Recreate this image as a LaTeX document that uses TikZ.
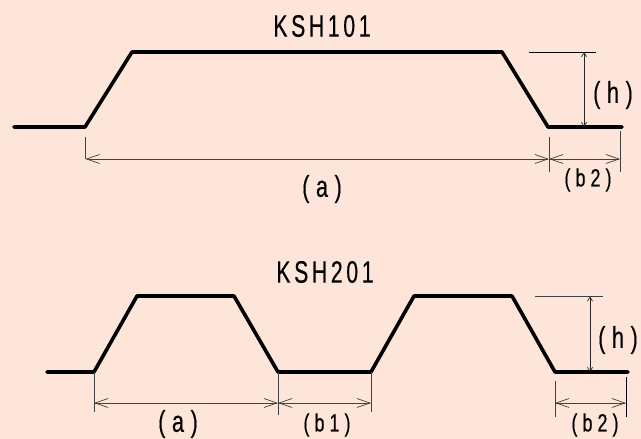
\documentclass[tikz,border=0pt]{standalone}
\usepackage{fontspec}
\newfontfamily\titlefont[FakeStretch=0.68,LetterSpace=12,FakeBold=0.3]{Liberation Sans}
\newfontfamily\parenfont[FakeStretch=0.72,LetterSpace=22,FakeBold=0.3]{Liberation Sans}
\newfontfamily\smallfont[FakeStretch=0.72,LetterSpace=20,FakeBold=0.3]{Liberation Sans}
\usetikzlibrary{arrows.meta}
\definecolor{sheetcolor}{HTML}{FDE5D9}
\tikzset{profile line/.style={line width=3.6pt,line cap=round,line join=round},}
\tikzset{extension line/.style={line width=0.7pt,color=black!75},}
\tikzset{dimension line/.style={line width=0.7pt,color=black!75,{Straight Barb[length=13pt,width=9pt,line width=0.7pt]}-{Straight Barb[length=13pt,width=9pt,line width=0.7pt]}},}
\tikzset{height line/.style={line width=0.7pt,color=black!85,{Straight Barb[length=4pt,width=5pt,line width=0.7pt]}-{Straight Barb[length=4pt,width=5pt,line width=0.7pt]}},}
\tikzset{title label/.style={inner sep=0pt,font=\titlefont\fontsize{31}{31}\selectfont},}
\tikzset{big label/.style={inner sep=0pt,font=\parenfont\fontsize{30}{30}\selectfont},}
\tikzset{small label/.style={inner sep=0pt,font=\smallfont\fontsize{25}{25}\selectfont},}

\begin{document}
\begin{tikzpicture}[x=1pt,y=-1pt]
     \fill[sheetcolor] (0,0) rectangle (641,439);
     \useasboundingbox (0,0) rectangle (641,439);

     % upper profile
     \coordinate (u1) at (14,127);
     \coordinate (u2) at (85,127);
     \coordinate (u3) at (132,52);
     \coordinate (u4) at (502,52);
     \coordinate (u5) at (548,127);
     \coordinate (u6) at (622,127);
     \draw[profile line] (u1) -- (u2) -- (u3) -- (u4) -- (u5) -- (u6);

     \coordinate (ua) at (85.5,159);
     \coordinate (ub) at (549,159);
     \coordinate (uc) at (620,159);
     \coordinate (uh1) at (584,52);
     \coordinate (uh2) at (584,127);
     \draw[extension line] (85.5,137) -- (ua);
     \draw[extension line] (549,137) -- (549,172);
     \draw[extension line] (620,131) -- (620,172);
     \draw[extension line,color=black] (529,52.5) -- (596,52.5);
     \draw[dimension line] (ua) -- (ub);
     \draw[dimension line] (ub) -- (uc);
     \draw[height line] (uh1) -- (uh2);

     \node[title label] (ukind) at (322,26) {KSH101};
     \node[big label] (ua label) at (322,189) {(a)};
     \node[big label] (uh label) at (613,95) {(h)};
     \node[small label] (ub label) at (588,180) {(b2)};

     % lower profile
     \coordinate (l1) at (47,372);
     \coordinate (l2) at (94,372);
     \coordinate (l3) at (137,296);
     \coordinate (l4) at (234,296);
     \coordinate (l5) at (278,372);
     \coordinate (l6) at (371,372);
     \coordinate (l7) at (414,296);
     \coordinate (l8) at (512,296);
     \coordinate (l9) at (555,372);
     \coordinate (l10) at (628,372);
     \draw[profile line] (l1) -- (l2) -- (l3) -- (l4) -- (l5) -- (l6) -- (l7) -- (l8) -- (l9) -- (l10);

     \coordinate (la) at (94,403);
     \coordinate (lb) at (278,403);
     \coordinate (lc) at (371,403);
     \coordinate (ld) at (555,403);
     \coordinate (le) at (626,403);
     \coordinate (lh1) at (590,296.5);
     \coordinate (lh2) at (590,372);
     \draw[extension line] (l2) -- (94,412);
     \draw[extension line] (l5) -- (278,415);
     \draw[extension line] (l6) -- (371,412);
     \draw[extension line] (555,381) -- (555,417);
     \draw[extension line,color=black] (626,377) -- (626,417);
     \draw[extension line] (535,296.5) -- (603,296.5);
     \draw[dimension line] (la) -- (lb);
     \draw[dimension line] (lb) -- (lc);
     \draw[dimension line] (ld) -- (le);
     \draw[height line] (lh1) -- (lh2);

     \node[title label] (lkind) at (325,272) {KSH201};
     \node[big label] (la label) at (178,424) {(a)};
     \node[small label] (lb label) at (327,425) {(b1)};
     \node[small label] (lb2 label) at (595,425) {(b2)};
     \node[big label] (lh label) at (618,340) {(h)};
\end{tikzpicture}
\end{document}
